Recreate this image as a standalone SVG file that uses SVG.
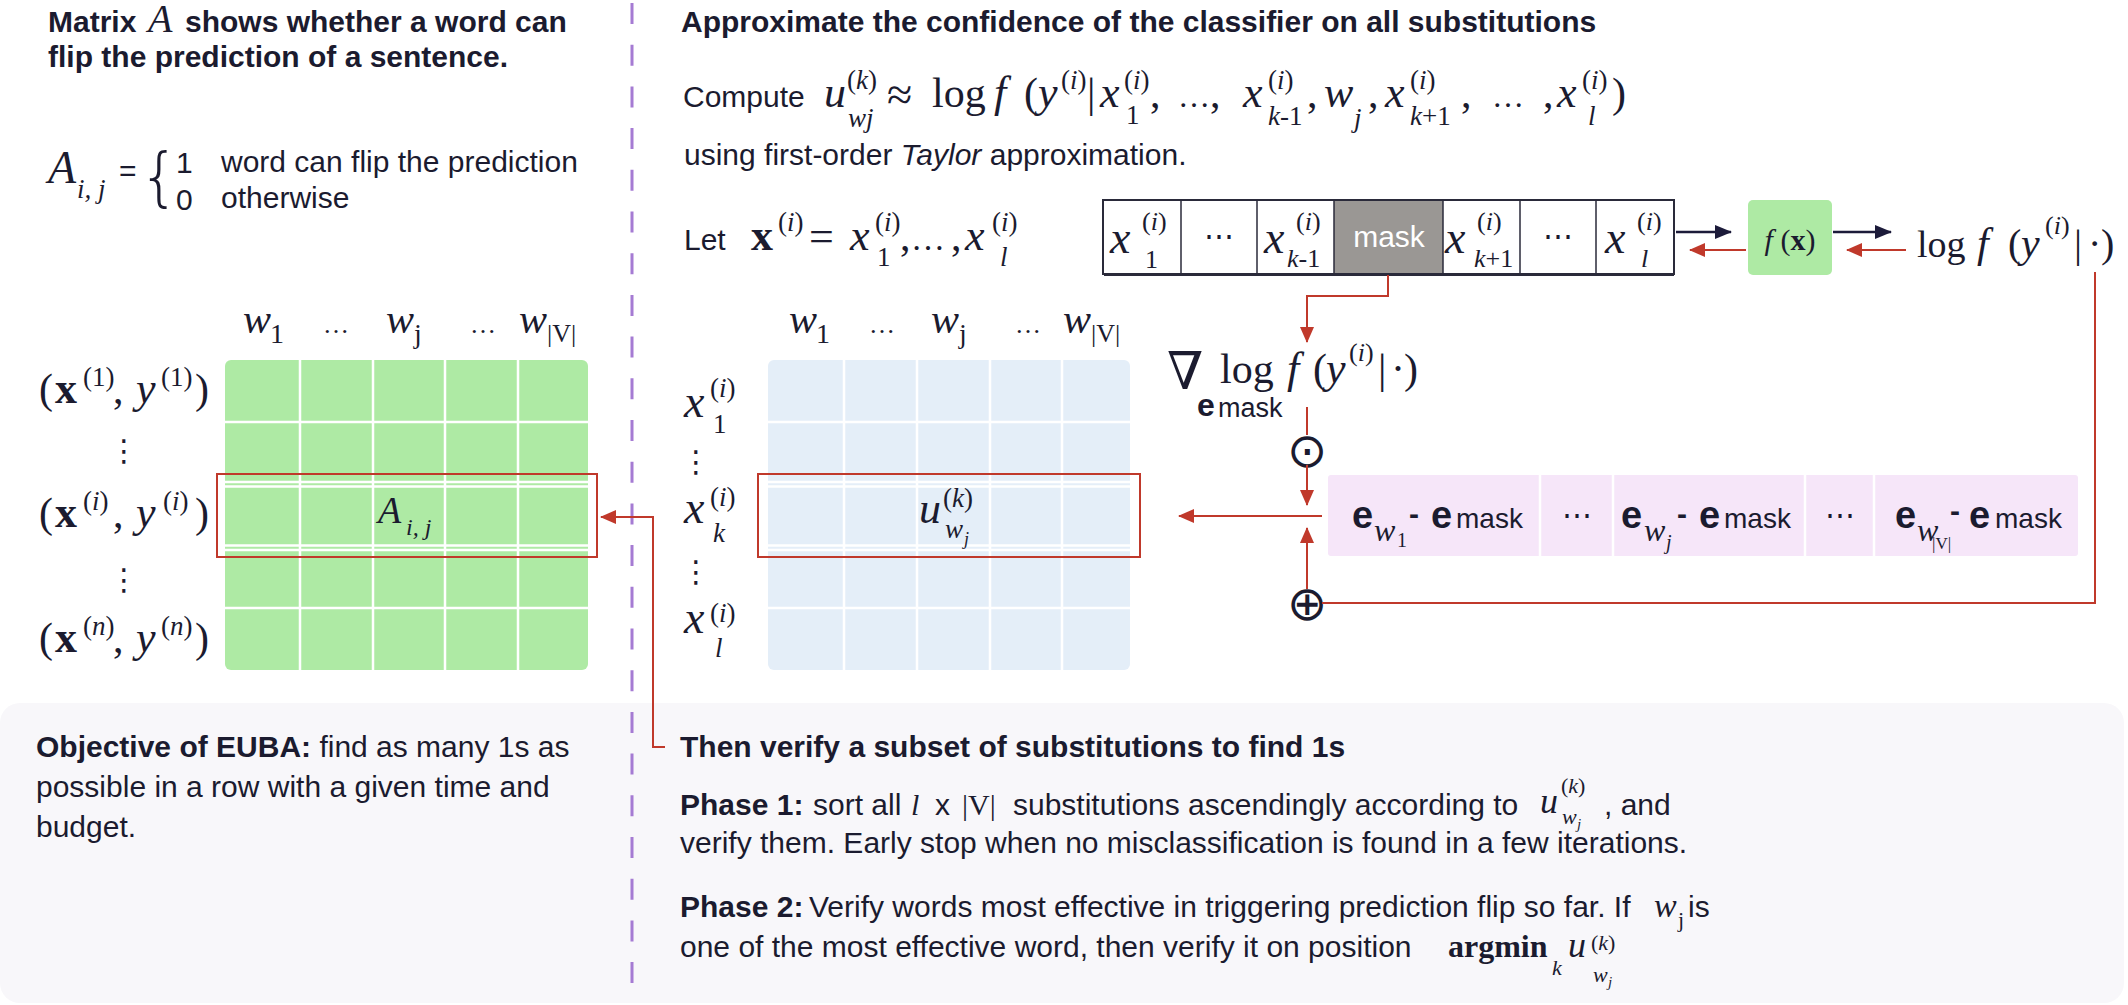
<svg xmlns="http://www.w3.org/2000/svg" width="2128" height="1005" viewBox="0 0 2128 1005">
<style>
.t{font-family:"Liberation Sans",Arial,sans-serif;fill:#1b1b2f}
.b{font-weight:bold}
.m{font-family:"Liberation Serif","DejaVu Serif",serif;fill:#1b1b2f}
.i{font-style:italic}
.r{stroke:#c0392b;stroke-width:2;fill:none}
.k{stroke:#1c1b3a;stroke-width:2.5;fill:none}
.g{stroke:#ffffff;stroke-width:2.5}
.op{font-family:"DejaVu Sans",sans-serif;fill:#1b1b2f}
</style>
<defs>
<marker id="ar" markerUnits="userSpaceOnUse" markerWidth="16" markerHeight="14" refX="15" refY="7" orient="auto"><path d="M0,0 L16,7 L0,14 z" fill="#c0392b"/></marker>
<marker id="ak" markerUnits="userSpaceOnUse" markerWidth="17" markerHeight="14" refX="16" refY="7" orient="auto"><path d="M0,0 L17,7 L0,14 z" fill="#1c1b3a"/></marker>
</defs>
<rect width="2128" height="1005" fill="#ffffff"/>

<g id="bottom-panel"><rect x="0" y="703" width="2124" height="300" rx="20" fill="#f8f7fa"/></g>
<g id="divider"><line x1="632" y1="3" x2="632" y2="990" stroke="#a57bd3" stroke-width="3" stroke-dasharray="21 20.7"/></g>

<g id="left-title">
<text class="t b" font-size="30" y="32"><tspan x="48">Matrix</tspan><tspan x="148" class="m i" font-weight="normal" font-size="40">A</tspan><tspan x="185">shows whether a word can</tspan></text>
<text class="t b" font-size="30" x="48" y="67">flip the prediction of a sentence.</text>
</g>

<g id="definition">
<text class="m i" font-size="46" x="48" y="183">A</text>
<text class="m i" font-size="27" x="77" y="198">i, j</text>
<text class="t" font-size="30" x="119" y="181">=</text>
<text class="op" font-size="64" font-weight="200" x="139" y="199">{</text>
<text class="t" font-size="30" x="176" y="173">1</text>
<text class="t" font-size="30" x="176" y="210">0</text>
<text class="t" font-size="30" x="221" y="172">word can flip the prediction</text>
<text class="t" font-size="30" x="221" y="208">otherwise</text>
</g>

<g id="matrix-A">
<rect x="225" y="360" width="363" height="310" rx="6" fill="#aeeaa4"/>
<line class="g" x1="300" y1="360" x2="300" y2="670"/>
<line class="g" x1="373" y1="360" x2="373" y2="670"/>
<line class="g" x1="445" y1="360" x2="445" y2="670"/>
<line class="g" x1="518" y1="360" x2="518" y2="670"/>
<line class="g" x1="225" y1="422" x2="588" y2="422"/>
<line class="g" x1="225" y1="482" x2="588" y2="482"/>
<line class="g" x1="225" y1="486.5" x2="588" y2="486.5"/>
<line class="g" x1="225" y1="545.5" x2="588" y2="545.5"/>
<line class="g" x1="225" y1="550" x2="588" y2="550"/>
<line class="g" x1="225" y1="608" x2="588" y2="608"/>
<rect x="217" y="474" width="380" height="83" class="r"/>
<text class="m i" font-size="38" x="378" y="523">A</text>
<text class="m i" font-size="24" x="406" y="535">i, j</text>
</g>

<g id="matrix-A-header">
<text class="m i" font-size="42" x="243" y="333">w</text><text class="m" font-size="28" x="270" y="343">1</text>
<text class="m" font-size="26" x="323" y="333">…</text>
<text class="m i" font-size="42" x="386" y="333">w</text><text class="m" font-size="28" x="414" y="343">j</text>
<text class="m" font-size="26" x="470" y="333">…</text>
<text class="m i" font-size="42" x="519" y="333">w</text><text class="m" font-size="26" x="547" y="342">|V|</text>
</g>

<g id="matrix-A-rows">
<text class="m" font-size="42" x="39" y="403">(</text><text class="m b" font-size="44" x="55" y="403">x</text><text class="m" font-size="27" x="83" y="386">(1)</text><text class="m" font-size="42" x="113" y="403">,</text><text class="m i" font-size="44" x="136" y="403">y</text><text class="m" font-size="27" x="161" y="386">(1)</text><text class="m" font-size="42" x="195" y="403">)</text>
<text class="op" font-size="30" x="124" y="461" text-anchor="middle">⋮</text>
<text class="m" font-size="42" x="39" y="527">(</text><text class="m b" font-size="44" x="55" y="527">x</text><text class="m" font-size="27" x="83" y="510">(<tspan font-style="italic">i</tspan>)</text><text class="m" font-size="42" x="113" y="527">,</text><text class="m i" font-size="44" x="136" y="527">y</text><text class="m" font-size="27" x="163" y="510">(<tspan font-style="italic">i</tspan>)</text><text class="m" font-size="42" x="195" y="527">)</text>
<text class="op" font-size="30" x="124" y="590" text-anchor="middle">⋮</text>
<text class="m" font-size="42" x="39" y="652">(</text><text class="m b" font-size="44" x="55" y="652">x</text><text class="m" font-size="27" x="83" y="635">(<tspan font-style="italic">n</tspan>)</text><text class="m" font-size="42" x="113" y="652">,</text><text class="m i" font-size="44" x="136" y="652">y</text><text class="m" font-size="27" x="161" y="635">(<tspan font-style="italic">n</tspan>)</text><text class="m" font-size="42" x="195" y="652">)</text>
</g>

<g id="objective">
<text class="t" font-size="30" x="36" y="757"><tspan font-weight="bold">Objective of EUBA:</tspan> find as many 1s as</text>
<text class="t" font-size="30" x="36" y="797">possible in a row with a given time and</text>
<text class="t" font-size="30" x="36" y="837">budget.</text>
</g>

<g id="right-title">
<text class="t b" font-size="30" x="681" y="32">Approximate the confidence of the classifier on all substitutions</text>
</g>

<g id="compute-formula">
<text class="t" font-size="30" x="683" y="107">Compute</text>
<text class="m i" font-size="44" x="824" y="107">u</text>
<text class="m" font-size="27" x="847" y="89">(<tspan font-style="italic">k</tspan>)</text>
<text class="m i" font-size="27" x="848" y="127">wj</text>
<text class="m" font-size="46" x="887" y="110">≈</text>
<text class="m" font-size="42" x="932" y="107">log</text>
<text class="m i" font-size="44" x="994" y="107">f</text>
<text class="m" font-size="42" x="1024" y="107">(</text>
<text class="m i" font-size="44" x="1038" y="107">y</text>
<text class="m" font-size="27" x="1061" y="89">(<tspan font-style="italic">i</tspan>)</text>
<text class="m" font-size="42" x="1087" y="107">|</text>
<text class="m i" font-size="44" x="1100" y="107">x</text>
<text class="m" font-size="27" x="1124" y="89">(<tspan font-style="italic">i</tspan>)</text>
<text class="m" font-size="27" x="1126" y="124">1</text>
<text class="m" font-size="42" x="1150" y="107">,</text>
<text class="m" font-size="32" x="1178" y="107">…</text>
<text class="m" font-size="42" x="1210" y="107">,</text>
<text class="m i" font-size="44" x="1243" y="107">x</text>
<text class="m" font-size="27" x="1268" y="89">(<tspan font-style="italic">i</tspan>)</text>
<text class="m" font-size="27" x="1268" y="125"><tspan font-style="italic">k</tspan>-1</text>
<text class="m" font-size="42" x="1307" y="107">,</text>
<text class="m i" font-size="44" x="1324" y="107">w</text>
<text class="m i" font-size="27" x="1354" y="127">j</text>
<text class="m" font-size="42" x="1368" y="107">,</text>
<text class="m i" font-size="44" x="1385" y="107">x</text>
<text class="m" font-size="27" x="1410" y="89">(<tspan font-style="italic">i</tspan>)</text>
<text class="m" font-size="27" x="1410" y="125"><tspan font-style="italic">k</tspan>+1</text>
<text class="m" font-size="42" x="1461" y="107">,</text>
<text class="m" font-size="32" x="1492" y="107">…</text>
<text class="m" font-size="42" x="1543" y="107">,</text>
<text class="m i" font-size="44" x="1557" y="107">x</text>
<text class="m" font-size="27" x="1582" y="89">(<tspan font-style="italic">i</tspan>)</text>
<text class="m i" font-size="27" x="1588" y="125">l</text>
<text class="m" font-size="42" x="1612" y="107">)</text>
<text class="t" font-size="30" x="684" y="165">using first-order <tspan font-style="italic">Taylor</tspan> approximation.</text>
</g>

<g id="let-formula">
<text class="t" font-size="30" x="684" y="250">Let</text>
<text class="m b" font-size="44" x="751" y="250">x</text>
<text class="m" font-size="27" x="778" y="231">(<tspan font-style="italic">i</tspan>)</text>
<text class="m" font-size="44" x="809" y="251">=</text>
<text class="m i" font-size="44" x="850" y="250">x</text>
<text class="m" font-size="27" x="875" y="231">(<tspan font-style="italic">i</tspan>)</text>
<text class="m" font-size="27" x="877" y="266">1</text>
<text class="m" font-size="42" x="900" y="250">,</text>
<text class="m" font-size="34" x="911" y="250">…</text>
<text class="m" font-size="42" x="951" y="250">,</text>
<text class="m i" font-size="44" x="965" y="250">x</text>
<text class="m" font-size="27" x="992" y="231">(<tspan font-style="italic">i</tspan>)</text>
<text class="m i" font-size="27" x="1000" y="266">l</text>
</g>

<g id="token-sequence">
<rect x="1103" y="200" width="571" height="74" fill="#ffffff" stroke="#2a2a3a" stroke-width="2"/>
<rect x="1334" y="201" width="109" height="72" fill="#9a9794"/>
<line x1="1104" y1="274.5" x2="1674" y2="274.5" stroke="#2a2a3a" stroke-width="3"/>
<line x1="1181" y1="200" x2="1181" y2="274" stroke="#2a2a3a" stroke-width="1.5"/>
<line x1="1257" y1="200" x2="1257" y2="274" stroke="#2a2a3a" stroke-width="1.5"/>
<line x1="1334" y1="200" x2="1334" y2="274" stroke="#2a2a3a" stroke-width="1.5"/>
<line x1="1443" y1="200" x2="1443" y2="274" stroke="#2a2a3a" stroke-width="1.5"/>
<line x1="1520" y1="200" x2="1520" y2="274" stroke="#2a2a3a" stroke-width="1.5"/>
<line x1="1596" y1="200" x2="1596" y2="274" stroke="#2a2a3a" stroke-width="1.5"/>
<text class="m i" font-size="46" x="1110" y="253">x</text>
<text class="m" font-size="26" x="1142" y="230">(<tspan font-style="italic">i</tspan>)</text>
<text class="m" font-size="26" x="1145" y="268">1</text>
<text class="m" font-size="30" x="1219" y="246" text-anchor="middle">⋯</text>
<text class="m i" font-size="46" x="1264" y="253">x</text>
<text class="m" font-size="26" x="1296" y="230">(<tspan font-style="italic">i</tspan>)</text>
<text class="m" font-size="26" x="1287" y="267"><tspan font-style="italic">k</tspan>-1</text>
<text class="t" font-size="30" x="1389" y="247" text-anchor="middle" style="fill:#ffffff">mask</text>
<text class="m i" font-size="46" x="1445" y="253">x</text>
<text class="m" font-size="26" x="1477" y="230">(<tspan font-style="italic">i</tspan>)</text>
<text class="m" font-size="26" x="1474" y="267"><tspan font-style="italic">k</tspan>+1</text>
<text class="m" font-size="30" x="1558" y="246" text-anchor="middle">⋯</text>
<text class="m i" font-size="46" x="1605" y="253">x</text>
<text class="m" font-size="26" x="1637" y="230">(<tspan font-style="italic">i</tspan>)</text>
<text class="m i" font-size="26" x="1641" y="267">l</text>
</g>

<g id="model-f">
<rect x="1748" y="200" width="84" height="75" rx="5" fill="#aeeaa4"/>
<text class="m" font-size="30" x="1790" y="250" text-anchor="middle"><tspan font-style="italic">f</tspan> (<tspan font-weight="bold">x</tspan>)</text>
</g>

<g id="log-output">
<text class="m" font-size="38" x="1917" y="257">log</text>
<text class="m i" font-size="42" x="1977" y="257">f</text>
<text class="m" font-size="40" x="2008" y="257">(</text>
<text class="m i" font-size="42" x="2021" y="257">y</text>
<text class="m" font-size="26" x="2045" y="234">(<tspan font-style="italic">i</tspan>)</text>
<text class="m" font-size="40" x="2074" y="257">|</text>
<text class="m" font-size="40" x="2088" y="257">·</text>
<text class="m" font-size="40" x="2101" y="257">)</text>
</g>

<g id="gradient">
<text font-family="DejaVu Serif, serif" font-size="52" x="1167" y="389" fill="#1b1b2f">∇</text>
<text class="m" font-size="42" x="1220" y="383">log</text>
<text class="m i" font-size="44" x="1287" y="383">f</text>
<text class="m" font-size="42" x="1313" y="383">(</text>
<text class="m i" font-size="44" x="1326" y="383">y</text>
<text class="m" font-size="26" x="1349" y="361">(<tspan font-style="italic">i</tspan>)</text>
<text class="m" font-size="42" x="1378" y="383">|</text>
<text class="m" font-size="42" x="1391" y="383">·</text>
<text class="m" font-size="42" x="1404" y="383">)</text>
<text class="t b" font-size="32" x="1197" y="416">e</text>
<text class="t" font-size="27" x="1218" y="417">mask</text>
</g>

<g id="op-hadamard"><text class="op" font-size="48" x="1307" y="467" text-anchor="middle">⊙</text></g>
<g id="op-plus"><text class="op" font-size="48" x="1307" y="620" text-anchor="middle">⊕</text></g>

<g id="embedding-diffs">
<rect x="1328" y="475" width="750" height="81" rx="3" fill="#f6e6f9"/>
<line class="g" x1="1540" y1="475" x2="1540" y2="556"/>
<line class="g" x1="1613" y1="475" x2="1613" y2="556"/>
<line class="g" x1="1805" y1="475" x2="1805" y2="556"/>
<line class="g" x1="1874" y1="475" x2="1874" y2="556"/>
<text class="t b" font-size="38" x="1352" y="528">e</text>
<text class="m i" font-size="32" x="1374" y="541">w</text>
<text class="m" font-size="20" x="1397" y="547">1</text>
<text class="t b" font-size="30" x="1409" y="524">-</text>
<text class="t b" font-size="38" x="1431" y="528">e</text>
<text class="t" font-size="28" x="1456" y="528">mask</text>
<text class="m" font-size="30" x="1577" y="525" text-anchor="middle">⋯</text>
<text class="t b" font-size="38" x="1621" y="528">e</text>
<text class="m i" font-size="32" x="1644" y="541">w</text>
<text class="m i" font-size="20" x="1666" y="549">j</text>
<text class="t b" font-size="30" x="1677" y="524">-</text>
<text class="t b" font-size="38" x="1699" y="528">e</text>
<text class="t" font-size="28" x="1724" y="528">mask</text>
<text class="m" font-size="30" x="1840" y="525" text-anchor="middle">⋯</text>
<text class="t b" font-size="38" x="1895" y="528">e</text>
<text class="m i" font-size="32" x="1917" y="541">w</text>
<text class="m" font-size="17" x="1932" y="549">|V|</text>
<text class="t b" font-size="30" x="1950" y="521">-</text>
<text class="t b" font-size="38" x="1969" y="528">e</text>
<text class="t" font-size="28" x="1995" y="528">mask</text>
</g>

<g id="matrix-u">
<rect x="768" y="360" width="362" height="310" rx="6" fill="#e4eef8"/>
<line class="g" x1="844" y1="360" x2="844" y2="670"/>
<line class="g" x1="917" y1="360" x2="917" y2="670"/>
<line class="g" x1="990" y1="360" x2="990" y2="670"/>
<line class="g" x1="1062" y1="360" x2="1062" y2="670"/>
<line class="g" x1="768" y1="422" x2="1130" y2="422"/>
<line class="g" x1="768" y1="482" x2="1130" y2="482"/>
<line class="g" x1="768" y1="486.5" x2="1130" y2="486.5"/>
<line class="g" x1="768" y1="545.5" x2="1130" y2="545.5"/>
<line class="g" x1="768" y1="550" x2="1130" y2="550"/>
<line class="g" x1="768" y1="608" x2="1130" y2="608"/>
<rect x="758" y="474" width="382" height="83" class="r"/>
<text class="m i" font-size="44" x="919" y="523">u</text>
<text class="m" font-size="27" x="943" y="507">(<tspan font-style="italic">k</tspan>)</text>
<text class="m i" font-size="27" x="945" y="538">w</text>
<text class="m i" font-size="18" x="964" y="545">j</text>
</g>

<g id="matrix-u-header">
<text class="m i" font-size="42" x="789" y="333">w</text><text class="m" font-size="28" x="816" y="343">1</text>
<text class="m" font-size="26" x="869" y="333">…</text>
<text class="m i" font-size="42" x="931" y="333">w</text><text class="m" font-size="28" x="959" y="343">j</text>
<text class="m" font-size="26" x="1015" y="333">…</text>
<text class="m i" font-size="42" x="1063" y="333">w</text><text class="m" font-size="26" x="1091" y="342">|V|</text>
</g>

<g id="matrix-u-rows">
<text class="m i" font-size="46" x="684" y="417">x</text>
<text class="m" font-size="27" x="710" y="397">(<tspan font-style="italic">i</tspan>)</text>
<text class="m" font-size="27" x="713" y="433">1</text>
<text class="op" font-size="30" x="696" y="472" text-anchor="middle">⋮</text>
<text class="m i" font-size="46" x="684" y="523">x</text>
<text class="m" font-size="27" x="710" y="506">(<tspan font-style="italic">i</tspan>)</text>
<text class="m i" font-size="27" x="713" y="542">k</text>
<text class="op" font-size="30" x="696" y="582" text-anchor="middle">⋮</text>
<text class="m i" font-size="46" x="684" y="633">x</text>
<text class="m" font-size="27" x="710" y="622">(<tspan font-style="italic">i</tspan>)</text>
<text class="m i" font-size="27" x="715" y="657">l</text>
</g>

<g id="verify">
<text class="t b" font-size="30" x="680" y="757">Then verify a subset of substitutions to find 1s</text>
<text class="t b" font-size="30" x="680" y="815">Phase 1:</text>
<text class="t" font-size="30" x="813" y="815">sort all</text>
<text class="m i" font-size="30" x="911" y="815">l</text>
<text class="t" font-size="30" x="935" y="815">x</text>
<text class="m" font-size="30" x="962" y="815">|V|</text>
<text class="t" font-size="30" x="1013" y="815">substitutions ascendingly according to</text>
<text class="m i" font-size="36" x="1540" y="813">u</text>
<text class="m" font-size="22" x="1561" y="793">(<tspan font-style="italic">k</tspan>)</text>
<text class="m i" font-size="22" x="1562" y="824">w</text>
<text class="m i" font-size="15" x="1577" y="829">j</text>
<text class="t" font-size="30" x="1604" y="815">, and</text>
<text class="t" font-size="30" x="680" y="853">verify them. Early stop when no misclassification is found in a few iterations.</text>
<text class="t b" font-size="30" x="680" y="917">Phase 2:</text>
<text class="t" font-size="30" x="809" y="917">Verify words most effective in triggering prediction flip so far. If</text>
<text class="m i" font-size="34" x="1654" y="917">w</text>
<text class="m" font-size="22" x="1678" y="927">j</text>
<text class="t" font-size="30" x="1688" y="917">is</text>
<text class="t" font-size="30" x="680" y="957">one of the most effective word, then verify it on position</text>
<text class="m b" font-size="32" x="1448" y="957">argmin</text>
<text class="m i" font-size="22" x="1552" y="975">k</text>
<text class="m i" font-size="36" x="1568" y="957">u</text>
<text class="m" font-size="22" x="1591" y="950">(<tspan font-style="italic">k</tspan>)</text>
<text class="m i" font-size="22" x="1593" y="982">w</text>
<text class="m i" font-size="15" x="1608" y="987">j</text>
</g>

<g id="connectors">
<path class="k" d="M1676,232 H1731" marker-end="url(#ak)"/>
<path class="k" d="M1833,232 H1891" marker-end="url(#ak)"/>
<path class="r" d="M1746,250 H1690" marker-end="url(#ar)"/>
<path class="r" d="M1906,250 H1847" marker-end="url(#ar)"/>
<path class="r" d="M1388,275 V296 H1307 V342" marker-end="url(#ar)"/>
<path class="r" d="M1307,407 V435"/>
<path class="r" d="M1307,465 V505" marker-end="url(#ar)"/>
<path class="r" d="M1307,589 V528" marker-end="url(#ar)"/>
<path class="r" d="M1322,516 H1179" marker-end="url(#ar)"/>
<path class="r" d="M2095,272 V603 H1322"/>
<path class="r" d="M665,747 H653 V517 H601" marker-end="url(#ar)"/>
</g>
</svg>
